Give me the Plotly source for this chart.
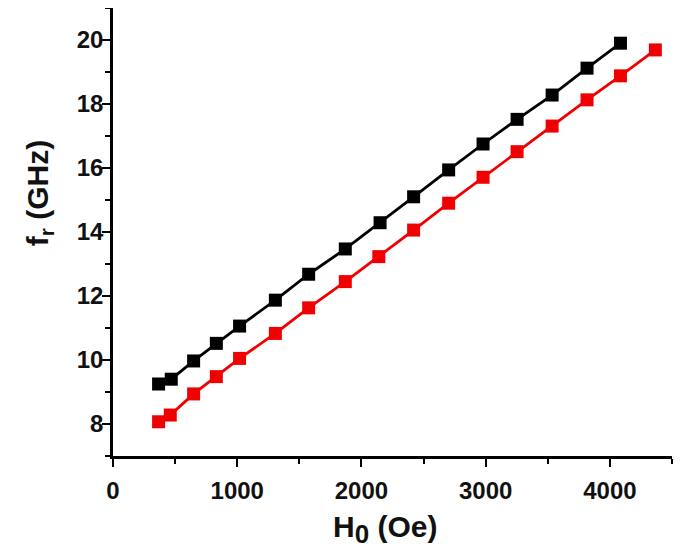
import plotly.graph_objects as go

x_black = [367, 469, 649, 832, 1019, 1307, 1575, 1870, 2150, 2420, 2702, 2979, 3253, 3535, 3816, 4085]
y_black = [9.25, 9.40, 9.97, 10.52, 11.06, 11.87, 12.68, 13.47, 14.29, 15.10, 15.94, 16.75, 17.52, 18.28, 19.12, 19.90]

x_red = [367, 461, 649, 832, 1019, 1307, 1575, 1870, 2140, 2420, 2702, 2979, 3253, 3535, 3816, 4085, 4366]
y_red = [8.07, 8.28, 8.94, 9.48, 10.05, 10.83, 11.63, 12.45, 13.23, 14.06, 14.90, 15.71, 16.51, 17.31, 18.13, 18.88, 19.69]

x_ticks = [0, 1000, 2000, 3000, 4000]
y_ticks = [8, 10, 12, 14, 16, 18, 20]

FONT = "Liberation Sans, Arial, sans-serif"

fig = go.Figure()
fig.add_trace(go.Scatter(x=x_black, y=y_black, mode="lines+markers",
                         line=dict(color="#000000", width=2.8),
                         marker=dict(symbol="square", size=13, color="#000000"),
                         showlegend=False, cliponaxis=False))
fig.add_trace(go.Scatter(x=x_red, y=y_red, mode="lines+markers",
                         line=dict(color="#f00000", width=2.8),
                         marker=dict(symbol="square", size=13, color="#f00000"),
                         showlegend=False, cliponaxis=False))

axis_common = dict(
    showgrid=False, zeroline=False, showline=True, linecolor="#000", linewidth=2.5,
    ticks="outside", ticklen=8, tickwidth=2, tickcolor="#000",
    tickfont=dict(family=FONT, size=24, color="#111", weight="bold"),
    minor=dict(ticks="outside", ticklen=5, tickwidth=2, tickcolor="#000"),
    automargin=False,
)

fig.update_xaxes(range=[0, 4500], tickvals=x_ticks, ticktext=[str(v) for v in x_ticks],
                 minor_dtick=500, minor_tick0=0, ticklabelstandoff=3, **axis_common)
fig.update_yaxes(range=[7, 21], tickvals=y_ticks, ticktext=[str(v) for v in y_ticks],
                 minor_dtick=1, minor_tick0=7, ticklabelstandoff=-6, **axis_common)

fig.add_annotation(text="<b>H<sub><span style='font-size:26px'>0</span></sub> (Oe)</b>",
                   xref="paper", yref="paper", x=0.487, y=-0.165,
                   xanchor="center", yanchor="middle", showarrow=False,
                   font=dict(family=FONT, size=30, color="#111"))
fig.add_annotation(text="<b>f<sub>r</sub> (GHz)</b>",
                   xref="paper", yref="paper", x=-0.131, y=0.588,
                   xanchor="center", yanchor="middle", showarrow=False, textangle=-90,
                   font=dict(family=FONT, size=30, color="#111"))

fig.update_layout(
    width=677, height=544,
    margin=dict(l=105, r=13, t=0, b=96),
    plot_bgcolor="white", paper_bgcolor="white",
    font=dict(family=FONT, color="#111"),
)

fig.write_html("out.html")
